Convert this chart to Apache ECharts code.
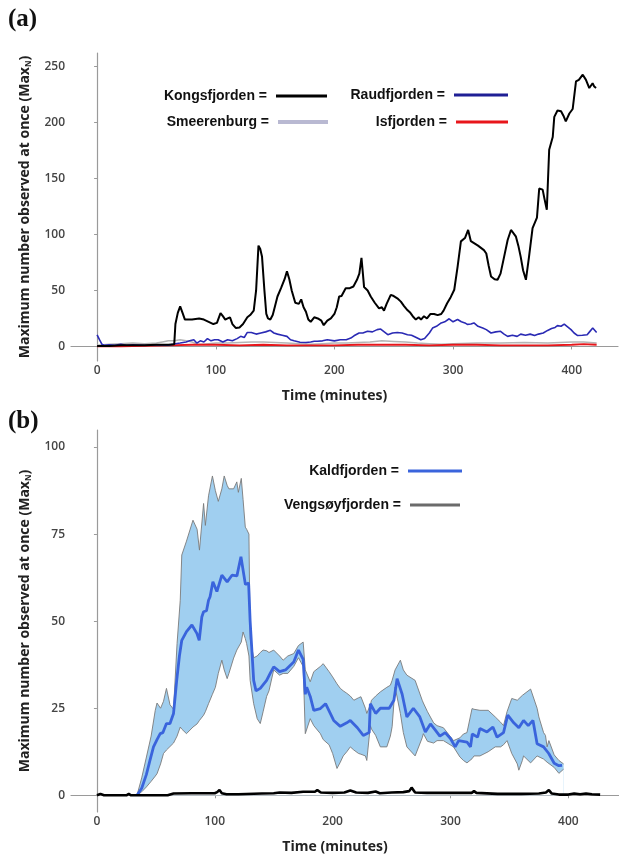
<!DOCTYPE html>
<html>
<head>
<meta charset="utf-8">
<script src="https://cdn.jsdelivr.net/npm/echarts@6/dist/echarts.min.js"></script>
<style>
html,body{margin:0;padding:0;background:#fff;}
#chart{width:619px;height:857px;}
</style>
</head>
<body>
<div id="chart"></div>
<script>
// ---------- Panel (a) data: [minute, MaxN] ----------
const tickValues = [0, 100, 200, 300, 400];
const yTicksA = [0, 50, 100, 150, 200, 250];
const yTicksB = [0, 25, 50, 75, 100];

const kongsfjorden = [[0,0.5],[10,0.5],[20,1],[30,1],[40,1],[50,1.5],[60,1.5],[65,2],[66,20],[68,30],[70,35.7],[72,30],[74,24],[80,24],[86,25],[90,24],[94,22],[98,20],[101,21],[104,29.8],[106,27],[108,24],[110,25],[112,26],[114,20],[117,16.4],[120,17],[123,20],[126.6,26],[129,28],[132,32],[134,50],[136,90],[137.5,87],[139,80],[141,50],[142.6,29],[144,25],[146,24],[148,28],[149,32],[152,44.6],[155,52],[158,60],[160,67],[162,60],[164,50],[167,39],[170,38],[172,42],[174,35],[176,31],[178,24],[180,22],[183,26],[186,25],[189,23],[191,19],[194,23],[197,25],[200,29],[202,35],[204,44.6],[206,45],[209.5,52],[213,52],[216,53.5],[219,59.5],[221,65],[222.8,79],[224,65],[225,53],[228,50],[230.6,44.6],[234,39],[237.6,34],[240,35],[241.8,32],[244,38],[247.5,46],[250,45],[253,43],[256,40],[258.7,36],[261,33],[264,30],[266,27],[268.6,24],[271,26],[273,24],[275.5,27],[278,25],[281,29],[284,29],[287,28],[290,29],[292,32],[295,38.6],[298,44],[301,50.6],[303.8,71],[306.6,93.8],[310,96.8],[312.7,104],[315,94],[318,92],[321,90],[323.5,88],[326,86],[328,83],[330,72],[332,62.5],[335,60],[337.5,59.5],[340,65],[343,80],[346,95],[348.8,104],[351,101],[353,98],[355,90],[357,80],[359,68],[361.4,59.5],[364,80],[367,105.7],[370.7,115],[372.6,141],[375.5,140],[377,132],[379,122],[381,175.6],[384,187],[385.3,205],[388,210.7],[391,210],[393,206],[395,201],[398,208],[400.8,212],[403.6,236.6],[406,238],[409.3,242.6],[412,238],[414.8,230.7],[417.6,235],[419,232],[420.5,230.7]];

const raudfjorden = [[0,10.4],[2,6],[4,2],[6,1],[10,1.5],[15,1],[20,2],[25,1],[30,1.5],[40,1],[50,1.5],[60,1],[66,2.4],[70,3],[75,4],[78,5],[81.5,6],[84,3],[87,5],[90,4],[93,7],[96,5],[99,6],[102,6],[106,4],[110,6],[114,5],[118,7],[121,9],[124,8],[126.6,12.5],[130,12.5],[134,11],[138,12],[142,13],[146,14.4],[149,12],[152,11],[156,10],[160,9],[163,6],[166,5],[171,3.7],[176,3.5],[180,4],[183,4.6],[185.6,4.6],[190,5],[194,6],[200,5],[205,6],[210,6],[213.8,7.5],[216.5,9.5],[220.8,12],[224,12],[227.9,13.5],[232,13],[236,15],[239,15.5],[242,13],[245,10.5],[249,12],[253,12.5],[257,12],[261.6,10.5],[265,10],[269,8],[272.8,6],[276,7],[280,12],[282.7,16.4],[286,18],[290,21],[293,22],[296.7,24.7],[300,22],[303.8,24],[307,22],[310,21],[312,19.7],[315,20],[317.6,21],[321,18],[325,16.4],[328,15],[332,12],[336,13],[340,13.5],[343,11],[346,9],[350,10],[354,9],[357,11],[361,10],[365,11],[368.7,9.7],[372,11],[376,12],[379.7,14.3],[383,16],[386,17],[388,18.6],[391,18],[393.7,20],[396,18],[399.4,15],[402,12],[405,9.7],[409,10],[413,10.5],[415,13],[417.7,16.4],[419,15],[421,12.5]];

const smeerenburg = [[0,1],[10,2],[20,2.5],[30,3],[40,2.5],[50,3],[55,4],[60,5],[65,5],[70,6],[75,5],[80,4],[85,2],[90,2],[100,3],[110,3],[120,3.5],[130,4],[140,4],[150,3.5],[160,3],[170,2.5],[180,2],[190,2.5],[200,3],[210,3],[220,3.5],[230,4],[240,5],[250,4.5],[260,4],[270,3],[280,2.5],[290,2],[300,2.5],[320,3],[340,3],[360,3.5],[380,3],[400,4],[410,4],[421,3]];

const isfjorden = [[0,0],[20,0],[40,0.5],[60,1],[80,1.5],[100,1.5],[120,1],[140,1.5],[160,1],[180,1],[200,1],[220,1.5],[240,1.5],[260,1.5],[280,1],[300,1.5],[320,1.5],[340,1],[360,1],[380,1],[400,1.5],[410,2],[421,1.5]];

// ---------- Panel (b) data ----------
const kaldfjordenMean = [[34,0],[38,2],[42,6],[45,10],[48,13.9],[51,16],[53.7,17.7],[56,18],[59,20.6],[62,20.6],[65,23.5],[67.7,33],[70,40],[72,44.5],[76,47],[80.6,48.9],[84.8,46.5],[86.8,44.5],[89,51.2],[90.5,52.7],[93,53],[94.7,56],[96,57],[98.4,61.3],[101.8,58.5],[106,63.2],[110.5,61.3],[114.6,63.2],[118.8,63],[122.2,68.5],[126,60.5],[128.7,61],[130,50],[133,33],[135,30],[138.6,30.7],[144,33],[147,35],[150,36.9],[155,35.5],[160,36],[167,38.3],[171,41.7],[175,39],[176.8,29],[178,31],[181,28.4],[184,24.4],[189.6,24.9],[194,26.3],[200.9,21.5],[206.5,19.8],[212,20.8],[215,21.5],[221,19.4],[226,17.2],[231,18],[232,26.3],[236.5,23.5],[240.5,25],[248,25],[252,27.3],[254.7,33.5],[259,29],[263,22.5],[268.5,25],[274,22.5],[278.7,18.2],[283,20.5],[287,18.8],[291,17],[295.5,18],[300,16.3],[304,13.9],[307,15.7],[314,15.3],[317,13.9],[318.5,17.6],[323,16.7],[325,19.2],[331,18.2],[336,19.6],[339.5,16.7],[345,18],[348.6,23],[353.7,20.8],[358,19.4],[362,21.5],[366,20],[370,21.5],[373.5,14.8],[379,13.9],[383.4,12],[388,9.2],[392,8.5],[394.7,8.6]];

const bandMinutes = [34,38,42,46,49.5,51,54,56.5,59,62,65,68,70.7,72,76,81.5,85,87,90.5,92,94.7,98,100.5,103,106,108,110.5,112,116,118.7,120,122.5,124,125.9,127,129,130,133,136,138.6,141,144,146,150,155,158,162,167,171,175,176.8,181,184,189.6,192,197,200,203.7,206.5,209,212,215,218,222,224,227.8,229,230.6,232,233,236.5,240.5,246,249,250.5,253,257.5,260,263,270,276,277,280.5,285.7,288.6,294,295.6,302.6,308,311,314,318.3,320,325,332,338,342.5,345,348,352,356.7,358,361,362,368,369,373.5,375,379,380.6,382,383.5,388,392,396];
const bandUpper = [0,5,11,17,24.4,26.5,25,27,30.7,26,24.7,43.6,56,69,73,79,76.4,70.4,83.8,77.5,86,91.7,87.5,84.4,88,91.7,89,88,88,90,87,91,85,77,76.4,75,45,39.5,40,41,41.7,41.5,41,41.7,40,38.8,40,40.7,43,44,36,32.6,35.5,37,37.8,35.5,34,32,30.7,30,29.3,28.5,27.3,28,28.3,25,23.5,24,26,27.3,28.5,29.7,31,31.6,33,36,38.8,36,34.5,33,27.3,26.5,24,20.8,20,19.4,19,15.7,16.5,17.6,18,24.9,24.7,24.4,24.4,22.5,21,20,24,27.8,27.3,27.5,28.7,29,30.5,31,25,22.5,18,17.2,13.9,15.7,11.6,10,9];
const bandLower = [0,1,2.4,4,5.5,6.2,9,12,13,14,15,17,19.6,19,17.7,19.6,20.5,21.5,23,24,26.3,29,31,35,38.8,36,33.5,35,39.4,41.7,42,44,46.9,45,43.6,40,33,26.3,22,20.6,24,28.4,30,36,34.5,35,35,37,39.5,37,17.7,22,20,17.7,16,14.5,12,7.7,9.5,11.3,12.5,13.9,13,12,11.8,11.3,10,9.6,20,19,17.2,13.9,13.9,17,19.7,31.1,23.5,18,13.9,11.3,16.5,17.7,15.5,15,15.7,15.7,15.7,13.9,11,10,9.3,10.5,11.3,11.3,12.5,13.9,13.9,14.5,15.7,12,9,7.2,10,11.3,9.3,9.5,11.3,11,10.4,10,9.5,9,8,6.3,7.5];

const vengsoyfjorden = [[0,0],[3,0.4],[6,0],[25,0],[27,0.4],[29,0],[50,0],[60,0],[65,0.5],[80,0.6],[100,0.6],[102,0.9],[104,1.5],[106,0.6],[110,0.3],[120,0.3],[140,0.5],[150,0.6],[155,0.8],[165,0.7],[175,1],[185,1],[187,1.5],[190,0.8],[200,0.7],[210,0.8],[215,1.4],[220,0.8],[230,0.7],[236.5,1.1],[240,0.6],[250,0.8],[260,0.9],[265,1.2],[267,2.2],[270,0.8],[280,0.7],[300,0.7],[318,0.7],[320,1.2],[322,0.7],[340,0.4],[360,0.4],[375,0.5],[381,0.8],[383.5,1.5],[386,0.5],[392,0.2],[400,0.2],[405,0.5],[410,0.3],[415,0.5],[420,0.3],[427,0.2]];

const axisGray = '#9a9a9a';
const labelFont = {fontFamily: 'Open Sans', fontWeight: 600, fontSize: 12, color: '#444'};
const titleFont = {fontFamily: 'Open Sans', fontWeight: 700, fontSize: 14, color: '#222'};
const legendText = {fontFamily: 'Liberation Sans', fontWeight: 'bold', fontSize: 14, color: '#111', padding: [0, 4, 0, 0]};

function xAxisCfg(grid, max, nameGap) {
  return {
    type: 'value', gridIndex: grid, min: -22, max: max,
    splitLine: {show: false},
    axisLine: {lineStyle: {color: axisGray, width: 1.2}},
    axisTick: {show: true, length: 3, lineStyle: {color: axisGray}, customValues: tickValues},
    axisLabel: Object.assign({margin: 4, customValues: tickValues}, labelFont),
    name: 'Time (minutes)', nameLocation: 'middle', nameGap: nameGap,
    nameTextStyle: Object.assign({padding: [0, 20, 0, 0]}, titleFont)
  };
}
function yAxisCfg(grid, min, max, ticks) {
  return {
    type: 'value', gridIndex: grid, min: min, max: max,
    splitLine: {show: false},
    axisLine: {show: true, lineStyle: {color: axisGray, width: 1.2}},
    axisTick: {show: true, length: 3, lineStyle: {color: axisGray}, customValues: ticks},
    axisLabel: Object.assign({margin: 6, customValues: ticks}, labelFont),
    name: 'Maximum number observed at once (Max{sub|N})',
    nameLocation: 'middle', nameRotate: 90, nameGap: 38,
    nameTextStyle: Object.assign({rich: {sub: {fontFamily: 'Open Sans', fontWeight: 700, fontSize: 8, color: '#222', padding: [8, 0, 0, 0]}}}, titleFont)
  };
}
function legendCfg(name, right, top, color, width, height) {
  return {
    data: [{name: name, itemStyle: {color: color}}],
    right: right, top: top, padding: 0,
    icon: 'rect', itemWidth: width, itemHeight: height,
    align: 'right', selectedMode: false,
    formatter: '{name} =',
    textStyle: legendText
  };
}

const chart = echarts.init(document.getElementById('chart'), null, {renderer: 'canvas'});
chart.setOption({
  backgroundColor: '#fff',
  animation: false,
  grid: [
    {left: 71, right: 1, top: 53, height: 308},
    {left: 71, right: 0, top: 430, height: 382}
  ],
  xAxis: [xAxisCfg(0, 439, 28), xAxisCfg(1, 443, 28)],
  yAxis: [yAxisCfg(0, -13, 262, yTicksA), yAxisCfg(1, -4.8, 104.9, yTicksB)],
  legend: [
    legendCfg('Kongsfjorden', 292, 89, '#000000', 51, 3),
    legendCfg('Raudfjorden', 111, 88, '#1f1f95', 54, 3),
    legendCfg('Smeerenburg', 291, 115, '#b9b9d2', 50, 4),
    legendCfg('Isfjorden', 111, 115, '#e8161b', 52, 3),
    legendCfg('Kaldfjorden', 157, 464, '#3a64dc', 54, 3),
    legendCfg('Vengsøyfjorden', 159, 498, '#6b6b6b', 50, 3)
  ],
  graphic: [
    {type: 'text', left: 8, top: 7, style: {text: '(a)', font: 'bold 25px "Liberation Serif"', fill: '#111'}},
    {type: 'text', left: 8, top: 409, style: {text: '(b)', font: 'bold 25px "Liberation Serif"', fill: '#111'}}
  ],
  series: [
    {name: 'Smeerenburg', type: 'line', xAxisIndex: 0, yAxisIndex: 0, data: smeerenburg, showSymbol: false, symbol: 'none', lineStyle: {color: '#b5b5b5', width: 1.5}, itemStyle: {color: '#b9b9d2'}},
    {name: 'Isfjorden', type: 'line', xAxisIndex: 0, yAxisIndex: 0, data: isfjorden, showSymbol: false, symbol: 'none', lineStyle: {color: '#e8161b', width: 1.8}, itemStyle: {color: '#e8161b'}},
    {name: 'Raudfjorden', type: 'line', xAxisIndex: 0, yAxisIndex: 0, data: raudfjorden, showSymbol: false, symbol: 'none', lineStyle: {color: '#2a2ab4', width: 1.6}, itemStyle: {color: '#1f1f95'}},
    {name: 'Kongsfjorden', type: 'line', xAxisIndex: 0, yAxisIndex: 0, data: kongsfjorden, showSymbol: false, symbol: 'none', lineStyle: {color: '#000', width: 2}, itemStyle: {color: '#000'}},

    // Kaldfjorden range: upper filled blue, lower masks with white down to 0
    {name: 'upper', type: 'line', xAxisIndex: 1, yAxisIndex: 1, data: bandMinutes.map((m, i) => [m, bandUpper[i]]), showSymbol: false, symbol: 'none', lineStyle: {color: '#7a7a7a', width: 0.9}, areaStyle: {color: '#a0cff0', opacity: 1, origin: 0}, z: 1},
    {name: 'lower', type: 'line', xAxisIndex: 1, yAxisIndex: 1, data: bandMinutes.map((m, i) => [m, bandLower[i]]), showSymbol: false, symbol: 'none', lineStyle: {color: '#7a7a7a', width: 0.9}, areaStyle: {color: '#ffffff', opacity: 1, origin: 0}, z: 2},
    {name: 'Kaldfjorden', type: 'line', xAxisIndex: 1, yAxisIndex: 1, data: kaldfjordenMean, showSymbol: false, symbol: 'none', lineStyle: {color: '#3a64dc', width: 2.8}, itemStyle: {color: '#3a64dc'}, z: 3},
    {name: 'Vengsøyfjorden', type: 'line', xAxisIndex: 1, yAxisIndex: 1, data: vengsoyfjorden, showSymbol: false, symbol: 'none', lineStyle: {color: '#000', width: 2.6}, itemStyle: {color: '#6b6b6b'}, z: 3}
  ]
});
</script>
</body>
</html>
